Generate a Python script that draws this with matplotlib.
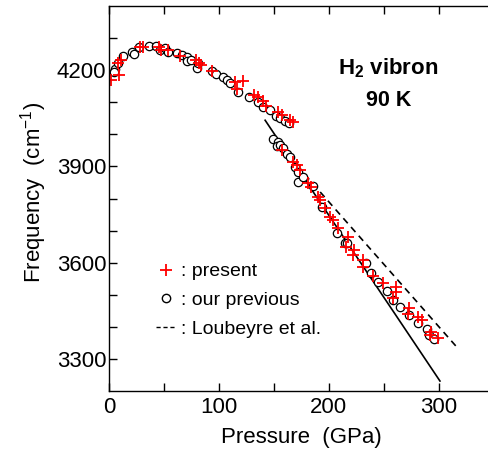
import numpy as np
import matplotlib.pyplot as plt
from matplotlib.lines import Line2D

plt.rcParams['font.family'] = ['Liberation Sans', 'DejaVu Sans']

# present data (red crosses)
p_present = [1.8, 9.4, 8.5, 11, 28, 30.6, 45.7, 47, 54, 64.5, 78.8, 82, 83.3, 94,
             114.5, 122, 116, 131.8, 135.7, 139.7, 142.4, 153.9, 157, 164.5, 167,
             157, 167.6, 170.6, 173.6, 181, 184, 190.3, 191.8, 196.4, 200.9, 204,
             208.5, 217.6, 215.5, 222.7, 222, 231, 230.6, 239.7, 249.4, 261, 261,
             258.5, 272.7, 272, 281.2, 285, 293.3, 291.8, 299.4]
f_present = [4171, 4184, 4224, 4233, 4271, 4273, 4271, 4264, 4262, 4244, 4231, 4221, 4216, 4198,
             4162, 4167, 4140, 4124, 4117, 4103, 4088, 4070, 4060, 4044, 4039,
             3951, 3914, 3904, 3888, 3847, 3837, 3805, 3795, 3769, 3743, 3733,
             3707, 3679, 3650, 3641, 3624, 3608, 3587, 3558, 3537, 3525, 3509,
             3489, 3458, 3440, 3430, 3421, 3385, 3374, 3364]

# our previous data (open circles)
p_prev = [5.5, 4.5, 8.5, 13, 20.6, 23, 27, 36, 42.7, 46.4, 51, 54, 61.5, 66, 70.6, 71, 75,
          79.7, 81.2, 93.4, 97.3, 104, 107, 110, 117.5, 127.6, 135.7, 140.3, 146.4, 151.8,
          155.5, 160, 164,
          149.4, 154, 152.4, 155.5, 158.5, 161.5, 164.5, 169, 172, 172, 176.7, 185.8, 193.4,
          207, 214.5, 216, 233.6, 237.9, 244.8, 252.4, 258.5, 264.5, 273, 281.2, 288.8,
          291.2, 295.5]
f_prev = [4205, 4195, 4221, 4244, 4257, 4250, 4273, 4275, 4275, 4262, 4268, 4257, 4254, 4247,
          4241, 4229, 4233, 4208, 4221, 4197, 4187, 4179, 4171, 4159, 4132, 4117, 4101, 4084,
          4075, 4057, 4050, 4042, 4034,
          3987, 3977, 3963, 3966, 3956, 3940, 3928, 3899, 3883, 3852, 3866, 3839, 3772,
          3693, 3660, 3660, 3600, 3567, 3541, 3512, 3484, 3461, 3437, 3411, 3392,
          3374, 3361]

# linear fit (solid) and Loubeyre et al. (dashed)
p_fit = [142, 301]
f_fit = [4044, 3231]
p_loub = [150, 315.5]
f_loub = [3984, 3340]

fig = plt.figure(figsize=(4.89, 4.55), dpi=100)
ax = fig.add_axes([0.2229, 0.1407, 0.787, 0.846])

ax.plot(p_fit, f_fit, color='black', lw=1.2)
ax.plot(p_loub, f_loub, color='black', lw=1.2, ls=(0, (4, 3)))
ax.plot(p_prev, f_prev, 'o', ms=6, mfc='white', mec='black', mew=0.9, ls='none')
ax.plot(p_present, f_present, '+', ms=8, color='red', mew=1.3, ls='none')

ax.set_xlim(0, 350)
ax.set_ylim(3200, 4400)
ax.set_xticks([0, 100, 200, 300])
ax.set_xticks([50, 150, 250], minor=True)
ax.set_yticks([3300, 3600, 3900, 4200])
ax.set_yticks([3400, 3500, 3700, 3800, 4000, 4100, 4300], minor=True)
ax.tick_params(which='both', direction='in', length=6, width=1, labelsize=16, pad=2)
ax.tick_params(axis='x', pad=4)
ax.tick_params(top=True, which='both')
for s in ax.spines.values():
    s.set_linewidth(1.0)

ax.set_xlabel('Pressure  (GPa)', fontsize=16, labelpad=7)
ax.set_ylabel('Frequency  (cm$^{\\mathregular{-1}}$)', fontsize=16)
ax.yaxis.set_label_coords(-0.157, 0.517)

ax.text(254, 4206, 'H$_\\mathregular{2}$ vibron', fontsize=16, fontweight='bold',
        ha='center', va='center')
ax.text(254, 4106, '90 K', fontsize=15.5, fontweight='bold', ha='center', va='center')

handles = [Line2D([], [], marker='+', color='red', ms=8, mew=1.3, ls='none'),
           Line2D([], [], marker='o', mfc='white', mec='black', ms=6, ls='none'),
           Line2D([], [], color='black', lw=1.0, ls=(0, (3, 2)))]
labels = [': present', ': our previous', ': Loubeyre et al.']
ax.legend(handles, labels, loc='upper left', bbox_to_anchor=(0.122, 0.333), frameon=False,
          fontsize=14, handlelength=1.0, handletextpad=0.3, labelspacing=0.58,
          borderpad=0, borderaxespad=0)

fig.savefig('out.png', dpi=100)
